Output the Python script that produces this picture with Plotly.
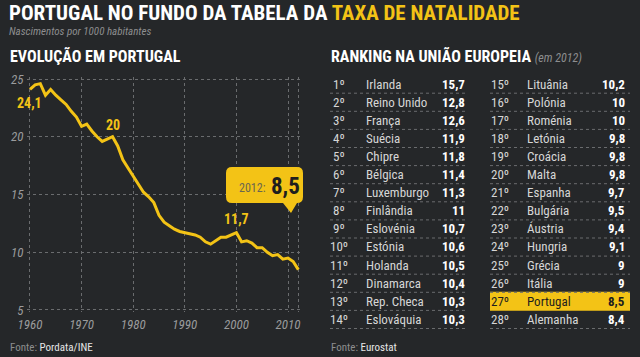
import re
import plotly.graph_objects as go

# ---------------- data ----------------
years = list(range(1960, 2013))
birth_rate = [24.1, 24.5, 24.6, 23.6, 24.1, 23.6, 23.2, 22.8, 22.2, 21.7,
              20.9, 21.1, 20.5, 20.0, 19.6, 19.8, 20.0, 19.2, 18.0, 17.3,
              16.6, 15.8, 15.2, 14.8, 14.3, 13.2, 12.6, 12.3, 12.0, 11.8,
              11.7, 11.6, 11.5, 11.3, 10.9, 10.7, 11.0, 11.3, 11.3, 11.5,
              11.7, 10.9, 11.0, 10.8, 10.4, 10.4, 10.0, 9.7, 9.8, 9.4,
              9.5, 9.2, 8.5]
x_ticks = [1960, 1970, 1980, 1990, 2000, 2010]
y_ticks = [5, 10, 15, 20, 25]

ranks = ["1º", "2º", "3º", "4º", "5º", "6º", "7º", "8º", "9º", "10º", "11º", "12º", "13º", "14º",
         "15º", "16º", "17º", "18º", "19º", "20º", "21º", "22º", "23º", "24º", "25º", "26º", "27º", "28º"]
countries = ["Irlanda", "Reino Unido", "França", "Suécia", "Chipre", "Bélgica", "Luxemburgo",
             "Finlândia", "Eslovénia", "Estónia", "Holanda", "Dinamarca", "Rep. Checa", "Eslováquia",
             "Lituânia", "Polónia", "Roménia", "Letónia", "Croácia", "Malta", "Espanha",
             "Bulgária", "Áustria", "Hungria", "Grécia", "Itália", "Portugal", "Alemanha"]
values = ["15,7", "12,8", "12,6", "11,9", "11,8", "11,4", "11,3", "11", "10,7", "10,6",
          "10,5", "10,4", "10,3", "10,3", "10,2", "10", "10", "9,8", "9,8", "9,8", "9,7",
          "9,5", "9,4", "9,1", "9", "9", "8,5", "8,4"]

# ---------------- style ----------------
W, H = 640, 357
BG = "#252729"
YEL = "#f3c316"
GRID = "#6a6c6e"
FC = "Liberation Sans Narrow, Roboto Condensed, Roboto, sans-serif"


def px(x):
    return x / W


def py(y):
    return 1 - y / H


fig = go.Figure()
fig.add_trace(go.Scatter(x=years, y=birth_rate, mode="lines",
                         line=dict(color=YEL, width=3), hoverinfo="skip", showlegend=False))

# axis domain (pixel-based)
x0p, x1p = 27.4, 300.9   # 1959.5 .. 2012.5
y_top, y_bot = 76.7, 312.3  # 25.2 .. 4.8

fig.update_layout(
    width=W, height=H, margin=dict(l=0, r=0, t=0, b=0, pad=0), autosize=False,
    paper_bgcolor=BG, plot_bgcolor=BG, showlegend=False,
    xaxis=dict(domain=[px(x0p), px(x1p)], range=[1959.5, 2012.5], automargin=False,
               tickvals=x_ticks + [2012], ticktext=[str(t) for t in x_ticks] + [""],
               showgrid=True, gridcolor=GRID, griddash="dot", gridwidth=1,
               zeroline=False, showline=False, ticks="", ticklabelstandoff=3,
               tickfont=dict(family=FC, size=13, color="#9a9b9c", style="italic")),
    yaxis=dict(domain=[py(y_bot), py(y_top)], range=[4.8, 25.2], automargin=False,
               tickvals=y_ticks, showgrid=True, gridcolor=GRID, griddash="dot", gridwidth=1,
               zeroline=False, showline=False, ticks="", ticklabelstandoff=3,
               tickfont=dict(family=FC, size=13, color="#9a9b9c", style="italic")),
)

ann = []
shapes = []

# titles
ann.append(dict(x=px(7), y=py(13), xref="paper", yref="paper", xanchor="left", yanchor="middle",
                showarrow=False,
                text="<b>PORTUGAL NO FUNDO DA TABELA DA </b><b><span style='color:%s'>TAXA DE NATALIDADE</span></b>" % YEL,
                font=dict(family=FC, size=21, color="#ffffff")))
ann.append(dict(x=px(7), y=py(31), xref="paper", yref="paper", xanchor="left", yanchor="middle",
                showarrow=False, text="<i>Nascimentos por 1000 habitantes</i>",
                font=dict(family=FC, size=11, color="#8d8e8f")))
ann.append(dict(x=px(8), y=py(56), xref="paper", yref="paper", xanchor="left", yanchor="middle",
                showarrow=False, text="<b>EVOLUÇÃO EM PORTUGAL</b>",
                font=dict(family=FC, size=16, color="#ffffff")))
ann.append(dict(x=px(329), y=py(56), xref="paper", yref="paper", xanchor="left", yanchor="middle",
                showarrow=False,
                text="<b>RANKING NA UNIÃO EUROPEIA</b> <span style='color:#8d8e8f;font-size:12px'><i>(em 2012)</i></span>",
                font=dict(family=FC, size=16, color="#ffffff")))

# footers
for xf, src in [(8, "Pordata/INE"), (329, "Eurostat")]:
    ann.append(dict(x=px(xf), y=py(347), xref="paper", yref="paper", xanchor="left", yanchor="middle",
                    showarrow=False,
                    text="<span style='color:#8d8e8f'>Fonte:</span> " + src,
                    font=dict(family=FC, size=11, color="#e6e6e6")))

# line labels (data coords)
for xv, yv, txt, dy in [(1960, 24.1, "24,1", 14), (1976, 20.0, "20", -12), (2000, 11.7, "11,7", -14)]:
    ann.append(dict(x=xv, y=yv, xref="x", yref="y", text="<b>%s</b>" % txt, showarrow=False,
                    yshift=-dy, xanchor="center", yanchor="middle",
                    font=dict(family=FC, size=14, color=YEL)))

# callout box
bx0, bx1, by0, by1, r = 226, 303, 167, 203, 6
path = ("M {a},{b} L {c},{b} Q {d},{b} {d},{e} L {d},{f} Q {d},{g} {c},{g} "
        "L 297,{g} L 291,213 L 283,{g} L {a},{g} Q {h},{g} {h},{f} L {h},{e} Q {h},{b} {a},{b} Z")
coords = dict(a=bx0 + r, b=by0, c=bx1 - r, d=bx1, e=by0 + r, f=by1 - r, g=by1, h=bx0)
p = path.format(**coords)
tokens = re.split(r"(\s+)", p)
out = []
for tok in tokens:
    if "," in tok:
        xs, ys = tok.split(",")
        out.append("%.5f,%.5f" % (px(float(xs)), py(float(ys))))
    else:
        out.append(tok)
shapes.append(dict(type="path", xref="paper", yref="paper", path="".join(out),
                   fillcolor=YEL, line=dict(width=0)))
ann.append(dict(x=px(252), y=py(188), xref="paper", yref="paper", xanchor="center", yanchor="middle",
                showarrow=False, text="2012:", font=dict(family=FC, size=12, color="#6a6650")))
ann.append(dict(x=px(285), y=py(186), xref="paper", yref="paper", xanchor="center", yanchor="middle",
                showarrow=False, text="<b>8,5</b>", font=dict(family=FC, size=23, color="#1e1e1e")))

# ranking table
row0, dr = 84, 18.1
cols = [dict(xl=330, xr=468, xrank=339, xname=364, xval=467),
        dict(xl=490, xr=630, xrank=500, xname=525, xval=627)]
for i in range(len(ranks)):
    c = cols[i // 14]
    j = i % 14
    yc = row0 + j * dr
    is_pt = countries[i] == "Portugal"
    if is_pt:
        shapes.append(dict(type="rect", xref="paper", yref="paper",
                           x0=px(c["xl"]), x1=px(c["xr"]), y0=py(yc - 9.5), y1=py(yc + 9.5),
                           fillcolor=YEL, line=dict(width=0), layer="below"))
    tcol = "#1e1e1e" if is_pt else "#d6d6d6"
    vcol = "#1e1e1e" if is_pt else "#ffffff"
    ann.append(dict(x=px(c["xrank"]), y=py(yc), xref="paper", yref="paper", xanchor="center",
                    yanchor="middle", showarrow=False, text=ranks[i],
                    font=dict(family=FC, size=13, color=tcol)))
    ann.append(dict(x=px(c["xname"]), y=py(yc), xref="paper", yref="paper", xanchor="left",
                    yanchor="middle", showarrow=False, text=countries[i],
                    font=dict(family=FC, size=13, color=tcol)))
    ann.append(dict(x=px(c["xval"]), y=py(yc), xref="paper", yref="paper", xanchor="right",
                    yanchor="middle", showarrow=False, text="<b>%s</b>" % values[i],
                    font=dict(family=FC, size=13, color=vcol)))
    if not is_pt:
        shapes.append(dict(type="line", xref="paper", yref="paper",
                           x0=px(c["xl"]), x1=px(c["xr"]), y0=py(yc + 9.2), y1=py(yc + 9.2),
                           line=dict(color="#6a6c6e", width=1, dash="dot")))

fig.update_layout(annotations=ann, shapes=shapes)
fig.write_html("out.html", config={"displayModeBar": False, "staticPlot": True},
               post_script="document.body.style.margin='0';document.body.style.padding='0';")
